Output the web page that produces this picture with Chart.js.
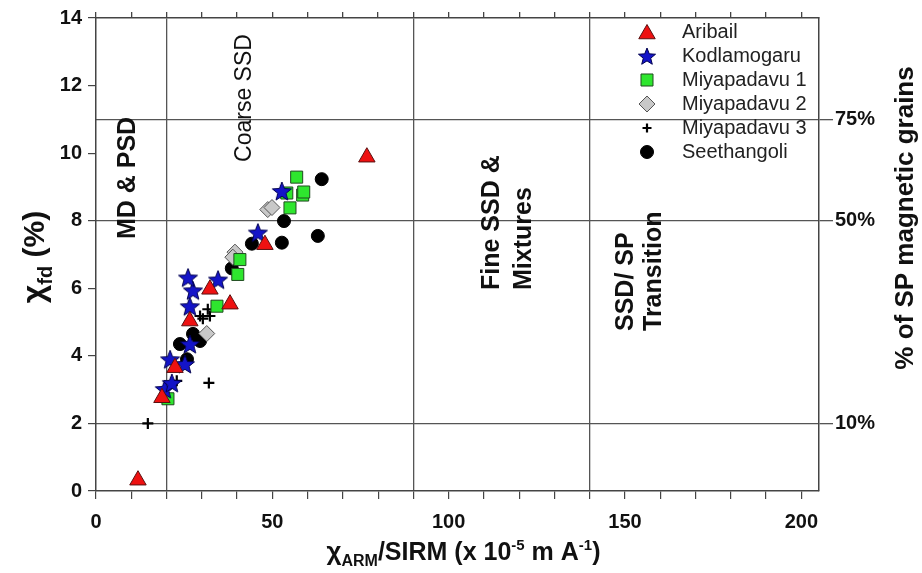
<!DOCTYPE html>
<html>
<head>
<meta charset="utf-8">
<script src="https://cdn.jsdelivr.net/npm/chart.js@4.4.1/dist/chart.umd.min.js"></script>
<style>
  html, body { margin: 0; padding: 0; background: #fff; }
  #wrap { width: 922px; height: 573px; }
</style>
</head>
<body>
<div id="wrap"><canvas id="grain-chart" width="922" height="573"></canvas></div>
<script>
const seriesNames = ['Aribail', 'Kodlamogaru', 'Miyapadavu 1', 'Miyapadavu 2', 'Miyapadavu 3', 'Seethangoli'];

const aribailX = [11.9, 18.7, 22.4, 26.6, 32.3, 38.0, 47.9, 76.8];
const aribailY = [0.32, 2.76, 3.65, 5.03, 5.97, 5.53, 7.29, 9.88];

const kodlamogaruX = [19.5, 21.5, 21.0, 25.2, 26.6, 26.6, 27.5, 26.1, 34.6, 45.9, 52.7];
const kodlamogaruY = [3.02, 3.2, 3.9, 3.76, 4.35, 5.47, 5.94, 6.32, 6.26, 7.65, 8.88];

const miyapadavu1X = [20.4, 34.3, 40.2, 40.8, 55.0, 54.1, 56.9, 58.6, 58.9];
const miyapadavu1Y = [2.73, 5.47, 6.41, 6.85, 8.38, 8.82, 9.29, 8.76, 8.85];

const miyapadavu2X = [31.4, 39.4, 38.8, 48.7, 49.9];
const miyapadavu2Y = [4.66, 7.07, 6.92, 8.33, 8.39];

const miyapadavu3X = [14.7, 22.9, 32.0, 29.5, 32.3, 31.7, 30.3];
const miyapadavu3Y = [2.0, 3.26, 3.2, 5.18, 5.18, 5.38, 5.1];

const seethangoliX = [23.8, 25.8, 27.5, 29.5, 38.5, 44.2, 52.7, 53.3, 62.9, 64.0];
const seethangoliY = [4.35, 3.9, 4.65, 4.44, 6.59, 7.32, 7.35, 7.99, 7.55, 9.23];

const xTickValues = [0, 10, 20, 30, 40, 50, 60, 70, 80, 90, 100, 110, 120, 130, 140, 150, 160, 170, 180, 190, 200];
const yTickValues = [0, 2, 4, 6, 8, 10, 12, 14];
const spTickValues = [2, 8, 11];
const spTickLabels = ['10%', '50%', '75%'];
const boundaryX = [20, 90, 140];

const FONT = "'Liberation Sans', Arial, sans-serif";

function toPoints(xs, ys) {
  return xs.map((x, i) => ({ x: x, y: ys[i] }));
}

function makeStar(outer, inner, fill, stroke) {
  const c = document.createElement('canvas');
  const size = Math.ceil(outer * 2 + 4);
  c.width = size;
  c.height = size;
  const g = c.getContext('2d');
  g.translate(size / 2, size / 2 + 1);
  g.beginPath();
  for (let i = 0; i < 10; i++) {
    const r = i % 2 === 0 ? outer : inner;
    const a = -Math.PI / 2 + i * Math.PI / 5;
    g.lineTo(Math.cos(a) * r, Math.sin(a) * r);
  }
  g.closePath();
  g.fillStyle = fill;
  g.fill();
  g.lineWidth = 1;
  g.strokeStyle = stroke;
  g.stroke();
  return c;
}

const starBig = makeStar(10, 4.3, '#1414c8', '#000050');
const starSmall = makeStar(9, 3.9, '#1414c8', '#000050');

// rotated text, reading bottom to top
function vText(ctx, str, x, y, font, align) {
  ctx.save();
  ctx.translate(x, y);
  ctx.rotate(-Math.PI / 2);
  ctx.font = font;
  ctx.textAlign = align;
  ctx.textBaseline = 'middle';
  ctx.fillStyle = '#111';
  ctx.fillText(str, 0, 0);
  ctx.restore();
}

// text with sub/superscripts, centred on cx, baseline at 0
function richText(ctx, parts, cx) {
  let total = 0;
  parts.forEach(p => {
    ctx.font = 'bold ' + p.size + 'px ' + FONT;
    p.w = ctx.measureText(p.t).width;
    total += p.w;
  });
  let x = cx - total / 2;
  ctx.textAlign = 'left';
  ctx.textBaseline = 'alphabetic';
  parts.forEach(p => {
    ctx.font = 'bold ' + p.size + 'px ' + FONT;
    ctx.fillText(p.t, x, p.dy || 0);
    x += p.w;
  });
}

const decorPlugin = {
  id: 'decor',
  afterDraw(chart) {
    const ctx = chart.ctx;
    const xs = chart.scales.x;
    ctx.save();
    ctx.fillStyle = '#111';

    // region labels
    vText(ctx, 'MD & PSD', 128, 178, 'bold 25px ' + FONT, 'center');
    vText(ctx, 'Coarse SSD', 245, 98, '23px ' + FONT, 'center');
    vText(ctx, 'Fine SSD &', 492, 290, 'bold 25px ' + FONT, 'left');
    vText(ctx, 'Mixtures', 524, 290, 'bold 25px ' + FONT, 'left');
    vText(ctx, 'SSD/ SP', 626, 331, 'bold 25px ' + FONT, 'left');
    vText(ctx, 'Transition', 654, 331, 'bold 25px ' + FONT, 'left');

    // left axis title
    ctx.save();
    ctx.translate(44, 257);
    ctx.rotate(-Math.PI / 2);
    ctx.fillStyle = '#111';
    richText(ctx, [
      { t: '\u03C7', size: 32 },
      { t: 'fd', size: 20, dy: 8 },
      { t: ' (%)', size: 30 }
    ], 0);
    ctx.restore();

    // right axis title
    vText(ctx, '% of SP magnetic grains', 906, 218, 'bold 26px ' + FONT, 'center');

    // bottom axis title
    ctx.save();
    ctx.translate(0, 560);
    ctx.fillStyle = '#111';
    richText(ctx, [
      { t: '\u03C7', size: 26 },
      { t: 'ARM', size: 16, dy: 6 },
      { t: '/SIRM (x 10', size: 25 },
      { t: '-5', size: 15, dy: -10 },
      { t: ' m A', size: 25 },
      { t: '-1', size: 15, dy: -10 },
      { t: ')', size: 25 }
    ], (xs.left + xs.right) / 2 + 6);
    ctx.restore();

    // legend
    const lx = 647, tx = 682;
    chart.data.datasets.forEach((ds, i) => {
      const y = 32 + i * 24;
      ctx.save();
      ctx.fillStyle = ds.backgroundColor;
      ctx.strokeStyle = ds.borderColor;
      ctx.lineWidth = ds.borderWidth;
      Chart.helpers.drawPoint(ctx, {
        pointStyle: ds.legendPointStyle || ds.pointStyle,
        radius: ds.legendRadius,
        rotation: 0,
        borderWidth: ds.borderWidth
      }, lx, y + (ds.pointStyle === 'triangle' ? 2 : 0));
      ctx.restore();
      ctx.fillStyle = '#222';
      ctx.font = '20px ' + FONT;
      ctx.textAlign = 'left';
      ctx.textBaseline = 'middle';
      ctx.fillText(ds.label, tx, y);
    });
    ctx.restore();
  }
};

const datasets = [
  {
    label: seriesNames[0], data: toPoints(aribailX, aribailY),
    pointStyle: 'triangle', pointRadius: 9.5, legendRadius: 9.5,
    backgroundColor: '#ee1111', borderColor: '#5a1010', borderWidth: 1
  },
  {
    label: seriesNames[1], data: toPoints(kodlamogaruX, kodlamogaruY),
    pointStyle: starBig, legendPointStyle: starSmall, pointRadius: 10, legendRadius: 9,
    backgroundColor: '#1414c8', borderColor: '#000050', borderWidth: 1
  },
  {
    label: seriesNames[2], data: toPoints(miyapadavu1X, miyapadavu1Y),
    pointStyle: 'rect', pointRadius: 8.5, legendRadius: 8.5,
    backgroundColor: '#2ee62e', borderColor: '#1f4a1f', borderWidth: 1
  },
  {
    label: seriesNames[3], data: toPoints(miyapadavu2X, miyapadavu2Y),
    pointStyle: 'rectRot', pointRadius: 8, legendRadius: 8,
    backgroundColor: '#c8c8c8', borderColor: '#555555', borderWidth: 1
  },
  {
    label: seriesNames[4], data: toPoints(miyapadavu3X, miyapadavu3Y),
    pointStyle: 'cross', pointRadius: 5.5, legendRadius: 4.5,
    backgroundColor: '#000', borderColor: '#000', borderWidth: 2.2
  },
  {
    label: seriesNames[5], data: toPoints(seethangoliX, seethangoliY),
    pointStyle: 'circle', pointRadius: 6.5, legendRadius: 6.5,
    backgroundColor: '#000', borderColor: '#000', borderWidth: 1
  }
];

const tickFont = { family: FONT, size: 20, weight: 'bold' };

const config = {
  type: 'scatter',
  data: { datasets: datasets },
  options: {
    responsive: false,
    animation: false,
    events: [],
    layout: { padding: 0 },
    plugins: {
      legend: { display: false },
      tooltip: { enabled: false }
    },
    scales: {
      x: {
        type: 'linear', position: 'bottom', min: 0, max: 205,
        afterBuildTicks: axis => { axis.ticks = xTickValues.map(v => ({ value: v })); },
        afterFit: axis => { axis.height = 82; },
        ticks: {
          autoSkip: false, maxRotation: 0, padding: 11, color: '#111', font: tickFont,
          callback: v => (v % 50 === 0 ? String(v) : '')
        },
        grid: { drawOnChartArea: false, tickLength: 8, color: '#444', lineWidth: 1.2 },
        border: { color: '#444', width: 1.5 }
      },
      x2: {
        type: 'linear', position: 'top', min: 0, max: 205,
        afterBuildTicks: axis => { axis.ticks = xTickValues.map(v => ({ value: v })); },
        afterFit: axis => { axis.height = 15; },
        ticks: { autoSkip: false, maxRotation: 0, callback: () => '' },
        grid: {
          drawOnChartArea: true, tickLength: 6, lineWidth: 1.3,
          color: c => (c.tick && boundaryX.includes(c.tick.value) ? '#555' : 'rgba(0,0,0,0)'),
          tickColor: '#444'
        },
        border: { color: '#444', width: 1.5 }
      },
      y: {
        type: 'linear', position: 'left', min: 0, max: 14,
        afterBuildTicks: axis => { axis.ticks = yTickValues.map(v => ({ value: v })); },
        afterFit: axis => { axis.width = 96; },
        ticks: { padding: 6, color: '#111', font: tickFont },
        grid: { drawOnChartArea: false, tickLength: 8, color: '#444', lineWidth: 1.2 },
        border: { color: '#444', width: 1.5 }
      },
      y2: {
        type: 'linear', position: 'right', min: 0, max: 14,
        afterBuildTicks: axis => { axis.ticks = spTickValues.map(v => ({ value: v })); },
        afterFit: axis => { axis.width = 103; },
        ticks: {
          padding: 2, color: '#111', font: tickFont,
          callback: v => spTickLabels[spTickValues.indexOf(v)]
        },
        grid: { drawOnChartArea: true, tickLength: 14, color: '#555', lineWidth: 1.3 },
        border: { color: '#444', width: 1.5 }
      }
    }
  },
  plugins: [decorPlugin]
};

const grainChart = new Chart(document.getElementById('grain-chart'), config);
</script>
</body>
</html>
